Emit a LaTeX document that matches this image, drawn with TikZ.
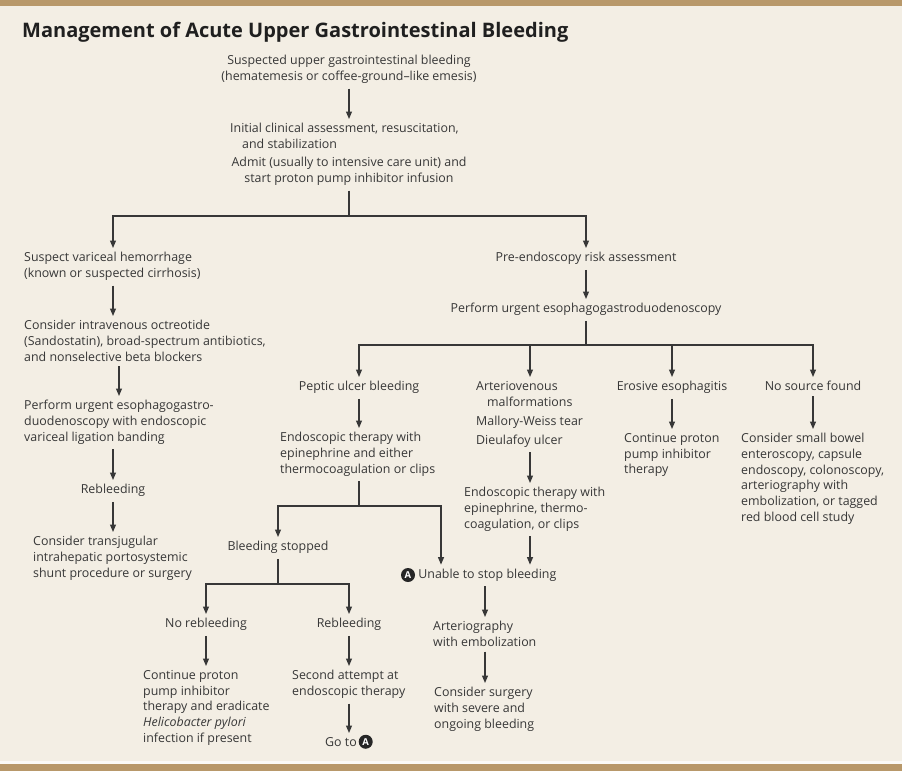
\documentclass[tikz,border=0pt]{standalone}
\usepackage{fontspec}
\setmainfont{Open Sans}
\usetikzlibrary{arrows.meta,positioning}
\definecolor{paper}{RGB}{243,238,228}
\definecolor{band}{RGB}{184,152,106}
\definecolor{ink}{RGB}{55,55,55}

\begin{document}
\begin{tikzpicture}[x=1pt, y=-1pt, >={Triangle[length=7.5pt,width=6pt]},
  font=\fontsize{12.4}{15.7}\selectfont, text=ink,
  txt/.style={inner sep=0pt, anchor=north west, align=left},
  ctr/.style={inner sep=0pt, anchor=north, align=center},
  wire/.style={draw=ink, line width=1.15pt},
  flow/.style={wire, ->, shorten <=5pt, shorten >=4pt},
  markA/.style={circle, fill=black!85, text=white, inner sep=0pt, minimum size=14pt,
    font=\fontsize{9.5}{9.5}\selectfont\bfseries}]
  % paper and the two bands
  \useasboundingbox (0,0) rectangle (902,771);
  \fill[paper] (0,0) rectangle (902,771);
  \fill[band] (0,0) rectangle (902,6);
  \fill[white!70!paper] (0,761) rectangle (902,764);
  \fill[band] (0,764) rectangle (902,771);

  \node[anchor=base west, inner sep=0pt, text=black!88,
    font=\fontsize{20}{22}\selectfont\bfseries] (title) at (22,37)
    {Management of Acute Upper Gastrointestinal Bleeding};

  % arrow columns
  \coordinate (xV) at (113,0);
  \coordinate (xO) at (119,0);
  \coordinate (xM) at (530,0);
  \coordinate (xU) at (441,0);
  \coordinate (xR) at (485,0);

  % trunk
  \node[ctr] (susp) at (349,55) {Suspected upper gastrointestinal bleeding\\(hematemesis or coffee-ground--like emesis)};
  \node[txt] (init) at (230,123) {Initial clinical assessment, resuscitation,\\\hspace*{12pt}and stabilization};
  \node[ctr] (admit) at (349,157) {Admit (usually to intensive care unit) and\\start proton pump inhibitor infusion};
  \draw[flow] (susp) -- (init.north -| susp);
  \coordinate (j1) at (349,216);
  \draw[wire, shorten <=5pt] (admit) -- (j1);

  % variceal side
  \node[txt] (varix) at (24,252) {Suspect variceal hemorrhage\\(known or suspected cirrhosis)};
  \node[txt] (octr) at (24,320) {Consider intravenous octreotide\\(Sandostatin), broad-spectrum antibiotics,\\and nonselective beta blockers};
  \node[txt] (band) at (24,400) {Perform urgent esophagogastro-\\duodenoscopy with endoscopic\\variceal ligation banding};
  \node[ctr] (rebl1) at (113,484) {Rebleeding};
  \node[txt] (tips) at (33,536) {Consider transjugular\\intrahepatic portosystemic\\shunt procedure or surgery};
  \draw[wire, ->, shorten >=4pt] (j1) -| (varix.north -| xV);
  \draw[flow] (varix.south -| xV) -- (octr.north -| xV);
  \draw[flow] (octr.south -| xO) -- (band.north -| xO);
  \draw[flow] (band.south -| xV) -- (rebl1);
  \draw[flow] (rebl1) -- (tips.north -| xV);

  % endoscopy side
  \node[ctr] (risk) at (586,252) {Pre-endoscopy risk assessment};
  \node[ctr] (egd) at (586,303) {Perform urgent esophagogastroduodenoscopy};
  \draw[wire, ->, shorten >=4pt] (j1) -| (risk);
  \draw[flow] (risk) -- (egd);
  \coordinate (j2) at (586,345);
  \draw[wire, shorten <=5pt] (egd) -- (j2);

  \node[ctr] (ulcer) at (359,381) {Peptic ulcer bleeding};
  \node[txt] (avm) at (476,381) {Arteriovenous\\\hspace*{11pt}malformations\\[3.3pt]Mallory-Weiss tear\\[3.3pt]Dieulafoy ulcer};
  \node[ctr] (eros) at (672,381) {Erosive esophagitis};
  \node[ctr] (nosrc) at (813,381) {No source found};
  \foreach \n in {ulcer,eros,nosrc}
    \draw[wire, ->, shorten >=4pt] (j2) -| (\n);
  \draw[wire, ->, shorten >=4pt] (j2) -| (avm.north -| xM);

  \node[txt] (ppi1) at (624,433) {Continue proton\\pump inhibitor\\therapy};
  \node[txt] (small) at (741,433) {Consider small bowel\\enteroscopy, capsule\\endoscopy, colonoscopy,\\arteriography with\\embolization, or tagged\\red blood cell study};
  \draw[flow] (eros) -- (ppi1.north -| eros);
  \draw[flow] (nosrc) -- (small.north -| nosrc);

  % peptic ulcer branch
  \node[txt] (endo1) at (280,432) {Endoscopic therapy with\\epinephrine and either\\thermocoagulation or clips};
  \node[txt] (endo2) at (464,487) {Endoscopic therapy with\\epinephrine, thermo-\\coagulation, or clips};
  \draw[flow] (ulcer) -- (endo1.north -| ulcer);
  \draw[flow] (avm.south -| xM) -- (endo2.north -| xM);

  \node[ctr] (stop) at (278,541) {Bleeding stopped};
  \node[markA] (unA) at (408,575) {A};
  \node[txt, right=3pt of unA] (unable) {Unable to stop bleeding};
  \coordinate (j3) at (359,506);
  \draw[wire, shorten <=5pt] (endo1.south -| ulcer) -- (j3);
  \draw[wire, ->, shorten >=4pt] (j3) -| (stop);
  \draw[wire, ->, shorten >=4pt] (j3) -| (unable.north -| xU);
  \draw[flow] (endo2.south -| xM) -- (unable.north -| xM);

  \node[txt] (arter) at (433,621) {Arteriography\\with embolization};
  \node[txt] (surg) at (434,687) {Consider surgery\\with severe and\\ongoing bleeding};
  \draw[flow] (unable.south -| xR) -- (arter.north -| xR);
  \draw[flow] (arter.south -| xR) -- (surg.north -| xR);

  \node[ctr] (norb) at (206,618) {No rebleeding};
  \node[ctr] (rebl2) at (349,618) {Rebleeding};
  \coordinate (j4) at (278,584);
  \draw[wire, shorten <=5pt] (stop) -- (j4);
  \draw[wire, ->, shorten >=4pt] (j4) -| (norb);
  \draw[wire, ->, shorten >=4pt] (j4) -| (rebl2);

  \node[txt] (ppi2) at (143,670) {Continue proton\\pump inhibitor\\therapy and eradicate\\\textit{Helicobacter pylori}\\infection if present};
  \node[txt] (again) at (292,670) {Second attempt at\\endoscopic therapy};
  \node[txt, anchor=north east] (goto) at (357,737) {Go to};
  \node[markA, right=1.5pt of goto] (gotoA) {A};
  \draw[flow] (norb) -- (ppi2.north -| norb);
  \draw[flow] (rebl2) -- (again.north -| rebl2);
  \draw[flow] (again.south -| rebl2) -- (goto.north -| rebl2);
\end{tikzpicture}
\end{document}
